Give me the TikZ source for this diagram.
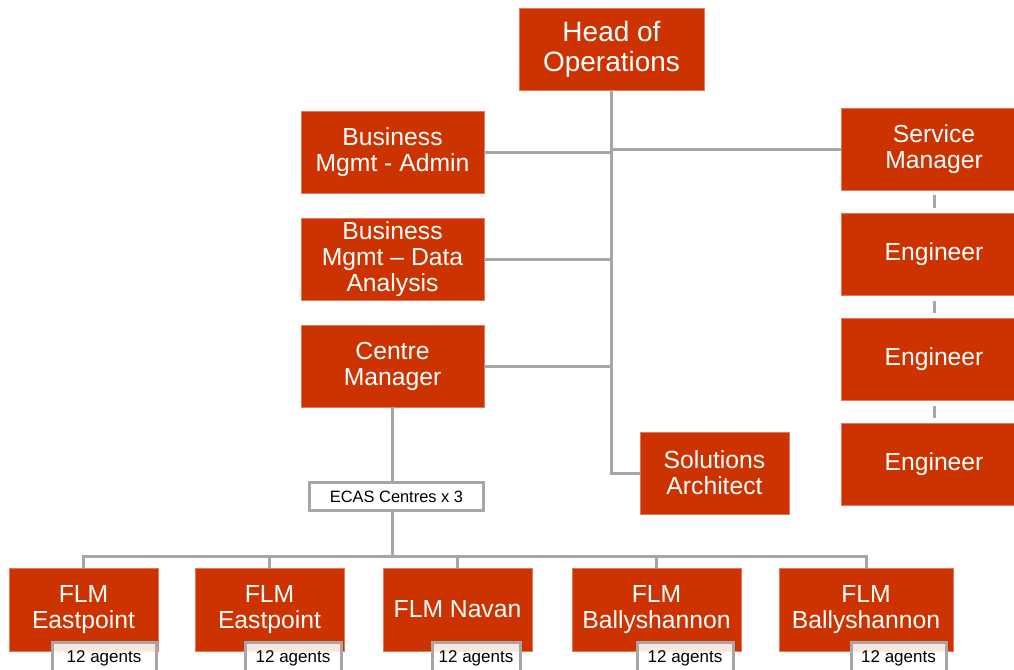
\documentclass[tikz,border=0pt]{standalone}
\usepackage{fontspec}
\setmainfont{Liberation Sans}
\definecolor{rust}{HTML}{CC3300}
\definecolor{rustedge}{HTML}{E2785A}
\definecolor{linegray}{HTML}{A6A6A6}

\begin{document}
\begin{tikzpicture}[x=1pt,y=-1pt,
    role/.style={fill=rust, draw=rustedge, line width=0.6pt, text=white, align=center,
      inner sep=0pt, minimum height=82pt, font=\fontsize{24.7}{26}\selectfont},
    agents/.style={draw=linegray, line width=3pt, fill=white, fill opacity=0.88, text opacity=1,
      anchor=north, inner xsep=0pt, inner ysep=0pt, text height=20pt, text depth=14pt,
      font=\fontsize{17}{20}\selectfont},
    link/.style={draw=linegray, line width=3pt}]
    \useasboundingbox (0,0) rectangle (1014,669);
    \node (A) [role, minimum width=185pt, font=\fontsize{28}{30}\selectfont] at (611.5, 49) {Head of\\Operations};
    \node (B) [role, minimum width=183pt] at (392.5, 152) {Business\\Mgmt - Admin};
    \node (C) [role, minimum width=183pt] at (392.5, 259) {Business\\Mgmt -- Data\\Analysis};
    \node (D) [role, minimum width=183pt] at (392.5, 366) {Centre\\Manager};
    \node (E) [role, minimum width=186pt] at (934, 149) {Service\\Manager};
    \node (F) [role, minimum width=186pt] at (934, 254.5) {Engineer};
    \node (G) [role, minimum width=186pt] at (934, 359.5) {Engineer};
    \node (H) [role, minimum width=186pt] at (934, 464) {Engineer};
    \node (J) [role, minimum width=149pt] at (714.5, 473) {Solutions\\Architect};
    \node (K) [draw=linegray, line width=3pt, fill=white, minimum width=174pt, minimum height=28pt,
      inner sep=0pt, font=\fontsize{16.4}{18}\selectfont] at (396.5, 496.5) {ECAS Centres x 3};
    \node (L) [role, minimum width=149pt, minimum height=83pt] at (83.5, 609.5) {FLM\\Eastpoint};
    \node (M) [role, minimum width=149pt, minimum height=83pt] at (269.5, 609.5) {FLM\\Eastpoint};
    \node (N) [role, minimum width=149pt, minimum height=83pt] at (457.5, 609.5) {FLM Navan};
    \node (P) [role, minimum width=169pt, minimum height=83pt] at (656.5, 609.5) {FLM\\Ballyshannon};
    \node (Q) [role, minimum width=174pt, minimum height=83pt] at (866, 609.5) {FLM\\Ballyshannon};
    \node (L1) [agents, minimum width=104pt] at (104, 641) {12 agents};
    \node (M1) [agents, minimum width=96pt] at (293, 641) {12 agents};
    \node (N1) [agents, minimum width=88pt] at (476, 641) {12 agents};
    \node (P1) [agents, minimum width=96pt] at (685, 641) {12 agents};
    \node (Q1) [agents, minimum width=95pt] at (898.5, 641) {12 agents};
    \coordinate (bus) at (392, 556);
    \draw[link] (A.south) -- (A.south |- J.west) -- (J.west);
    \draw[link] (B.east) -- (B.east -| A.south);
    \draw[link] (E.west) -- (E.west -| A.south);
    \draw[link] (C.east) -- (C.east -| A.south);
    \draw[link] (D.east) -- (D.east -| A.south);
    \draw[link, shorten <=5pt, shorten >=5pt] (E.south) -- (F.north);
    \draw[link, shorten <=5pt, shorten >=5pt] (F.south) -- (G.north);
    \draw[link, shorten <=5pt, shorten >=5pt] (G.south) -- (H.north);
    \draw[link] (D.south) -- (D.south |- K.north);
    \draw[link] (bus |- K.south) -- (bus);
    \draw[link] (bus) -| (L.north);
    \draw[link] (bus) -| (M.north);
    \draw[link] (bus) -| (N.north);
    \draw[link] (bus) -| (P.north);
    \draw[link] (bus) -| (Q.north);
  \end{tikzpicture}
\end{document}
